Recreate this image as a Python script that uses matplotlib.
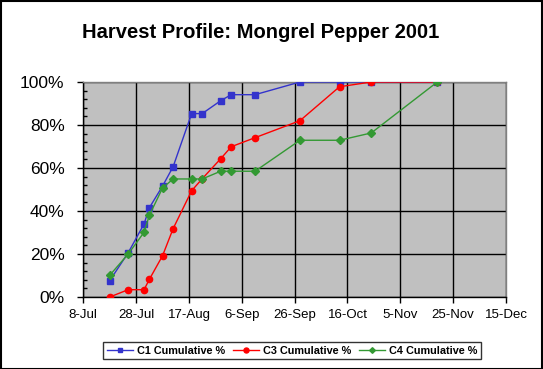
import matplotlib
matplotlib.use('Agg')
import matplotlib.pyplot as plt
import matplotlib.dates as mdates
from matplotlib import ticker
import numpy as np
import datetime as dt

# harvest dates (2001) and cumulative percentages
dates = ['2001-07-18', '2001-07-25', '2001-07-31', '2001-08-02', '2001-08-07',
         '2001-08-11', '2001-08-18', '2001-08-22', '2001-08-29', '2001-09-02',
         '2001-09-11', '2001-09-28', '2001-10-13', '2001-10-25', '2001-11-19']
c1 = [7.6, 20.6, 34.0, 41.5, 51.6, 60.6, 85.3, 85.3, 91.3, 94.1, 94.1, 100, 100, 100, 100]
c3 = [0.0, 3.4, 3.4, 8.2, 19.2, 31.8, 49.4, 55.0, 64.3, 69.9, 74.1, 82.0, 97.8, 100, 100]
c4 = [10.1, 20.0, 30.1, 38.0, 50.7, 54.9, 54.9, 54.9, 58.5, 58.5, 58.5, 72.9, 72.9, 76.3, 100]

x_start = dt.datetime(2001, 7, 8)
x_end = dt.datetime(2001, 12, 15)

x = [dt.datetime.strptime(d, '%Y-%m-%d') for d in dates]

plt.rcParams['font.family'] = ['Liberation Sans', 'DejaVu Sans']

fig = plt.figure(figsize=(5.43, 3.69), dpi=100)
fig.patch.set_facecolor('white')
ax = fig.add_axes([83.3/543, 72/369, (506-83.3)/543, (297.3-82.3)/369])
ax.set_facecolor('#C0C0C0')

ax.plot(x, c1, color='#3333CC', lw=1, marker='s', ms=4.3, mec='#3333CC', mfc='#3333CC',
        label='C1 Cumulative %', zorder=3)
ax.plot(x, c3, color='#FF0000', lw=1, marker='o', ms=4.5, mec='#FF0000', mfc='#FF0000',
        label='C3 Cumulative %', zorder=4)
ax.plot(x, c4, color='#339933', lw=1, marker='D', ms=3.6, mec='#339933', mfc='#339933',
        label='C4 Cumulative %', zorder=5)

ax.set_xlim(x_start, x_end)
ax.set_ylim(0, 100)

xt = [x_start + dt.timedelta(days=20*i) for i in range(9)]
ax.set_xticks(xt)
ax.xaxis.set_major_formatter(mdates.DateFormatter('%-d-%b'))
ax.yaxis.set_major_locator(ticker.MultipleLocator(20))
ax.yaxis.set_minor_locator(ticker.MultipleLocator(4))
ax.yaxis.set_major_formatter(ticker.FuncFormatter(lambda v, p: '%d%%' % v))

ax.grid(True, which='major', color='black', lw=1)
ax.set_axisbelow(True)

ax.tick_params(axis='x', direction='out', length=4.5, width=1, labelsize=9.5, pad=4)
ax.tick_params(axis='y', which='major', direction='out', length=4.5, width=1, labelsize=12.5, pad=9)
ax.tick_params(axis='y', which='minor', direction='in', length=3, width=1)

for s in ['left', 'bottom']:
    ax.spines[s].set_color('black')
    ax.spines[s].set_linewidth(1)
for s in ['top', 'right']:
    ax.spines[s].set_color('#808080')
    ax.spines[s].set_linewidth(1)

fig.text(261/543, 1 - 32/369, 'Harvest Profile: Mongrel Pepper 2001', ha='center', va='center',
         fontsize=14.5, fontweight='bold')

leg = fig.legend(loc='center', bbox_to_anchor=(292/543, 1 - 350.5/369), ncol=3,
                 prop={'size': 7.8, 'weight': 'bold'}, frameon=True, fancybox=False,
                 edgecolor='black', handlelength=2.4, columnspacing=0.7, handletextpad=0.4,
                 borderpad=0.35, borderaxespad=0, markerscale=0.8)
leg.get_frame().set_linewidth(1)

# chart border
fig.add_artist(plt.Rectangle((0.001, 0.001), 0.997, 0.997, transform=fig.transFigure,
                             fill=False, edgecolor='black', lw=1.5))

fig.savefig('out.png', dpi=100)
